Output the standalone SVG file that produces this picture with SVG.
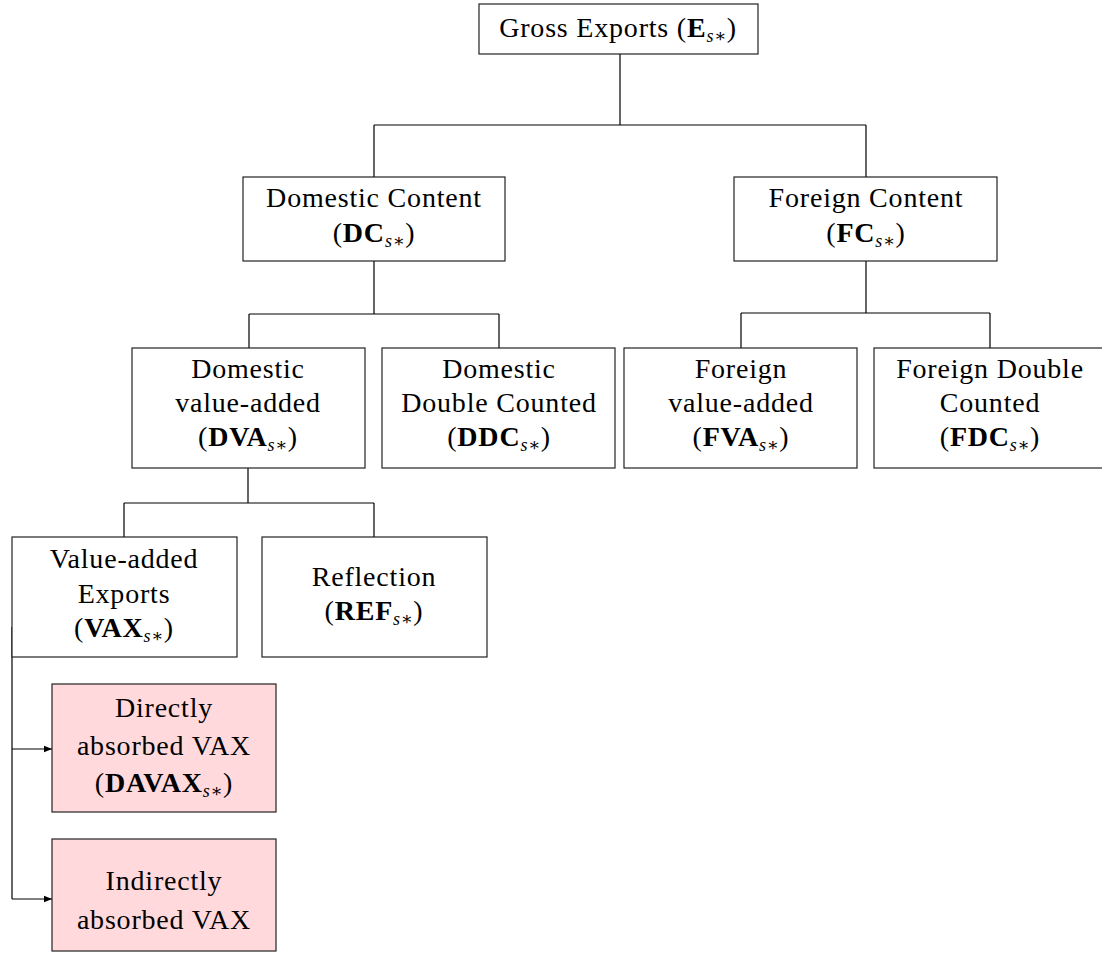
<svg xmlns="http://www.w3.org/2000/svg" width="1102" height="961" viewBox="0 0 1102 961">
<defs>
<marker id="arr" viewBox="0 0 10 10" refX="10" refY="5" markerWidth="8" markerHeight="8" markerUnits="userSpaceOnUse" orient="auto">
<path d="M0,1 L10,5 L0,9 Z" fill="#000"/>
</marker>
</defs>
<style>
.box{fill:#fff;stroke:#222;stroke-width:1.2}
.pink{fill:#ffd9dc;stroke:#222;stroke-width:1.2}
.conn{fill:none;stroke:#000;stroke-width:1.2}
text{font-family:"Liberation Serif","DejaVu Serif",serif;font-size:28px;letter-spacing:0.8px;fill:#000;text-anchor:middle}
.b{font-weight:bold}
.sub{font-style:italic;font-size:18px;letter-spacing:0.5px}
</style>
<rect width="1102" height="961" fill="#fff"/>
<g id="connectors">
<path class="conn" d="M620,54 V125 M374,125 H866 M374,125 V177 M866,125 V177"/>
<path class="conn" d="M374,261 V314 M249,314 H499 M249,314 V348 M499,314 V348"/>
<path class="conn" d="M866,261 V313 M741,313 H990 M741,313 V348 M990,313 V348"/>
<path class="conn" d="M248,468 V503 M124,503 H374 M124,503 V537 M374,503 V537"/>
<path class="conn" d="M12,627 V899"/>
<path class="conn" d="M12,749 H52" marker-end="url(#arr)"/>
<path class="conn" d="M12,899 H52" marker-end="url(#arr)"/>
</g>
<g id="gross">
<rect class="box" x="479" y="4" width="279" height="50"/>
<text x="618" y="37">Gross Exports (<tspan class="b">E</tspan><tspan class="sub" dy="5">s∗</tspan><tspan dy="-5">)</tspan></text>
</g>
<g id="dc">
<rect class="box" x="243" y="177" width="262" height="84"/>
<text x="374" y="207">Domestic Content</text>
<text x="374" y="242">(<tspan class="b">DC</tspan><tspan class="sub" dy="5">s∗</tspan><tspan dy="-5">)</tspan></text>
</g>
<g id="fc">
<rect class="box" x="734" y="177" width="263" height="84"/>
<text x="866" y="207">Foreign Content</text>
<text x="866" y="242">(<tspan class="b">FC</tspan><tspan class="sub" dy="5">s∗</tspan><tspan dy="-5">)</tspan></text>
</g>
<g id="dva">
<rect class="box" x="132" y="348" width="233" height="120"/>
<text x="248" y="378">Domestic</text>
<text x="248" y="412">value-added</text>
<text x="248" y="446">(<tspan class="b">DVA</tspan><tspan class="sub" dy="5">s∗</tspan><tspan dy="-5">)</tspan></text>
</g>
<g id="ddc">
<rect class="box" x="382" y="348" width="233" height="120"/>
<text x="499" y="378">Domestic</text>
<text x="499" y="412">Double Counted</text>
<text x="499" y="446">(<tspan class="b">DDC</tspan><tspan class="sub" dy="5">s∗</tspan><tspan dy="-5">)</tspan></text>
</g>
<g id="fva">
<rect class="box" x="624" y="348" width="233" height="120"/>
<text x="741" y="378">Foreign</text>
<text x="741" y="412">value-added</text>
<text x="741" y="446">(<tspan class="b">FVA</tspan><tspan class="sub" dy="5">s∗</tspan><tspan dy="-5">)</tspan></text>
</g>
<g id="fdc">
<rect class="box" x="874" y="348" width="233" height="120"/>
<text x="990" y="378">Foreign Double</text>
<text x="990" y="412">Counted</text>
<text x="990" y="446">(<tspan class="b">FDC</tspan><tspan class="sub" dy="5">s∗</tspan><tspan dy="-5">)</tspan></text>
</g>
<g id="vax">
<rect class="box" x="12" y="537" width="225" height="120"/>
<text x="124" y="568">Value-added</text>
<text x="124" y="603">Exports</text>
<text x="124" y="637">(<tspan class="b">VAX</tspan><tspan class="sub" dy="5">s∗</tspan><tspan dy="-5">)</tspan></text>
</g>
<g id="ref">
<rect class="box" x="262" y="537" width="225" height="120"/>
<text x="374" y="586">Reflection</text>
<text x="374" y="620">(<tspan class="b">REF</tspan><tspan class="sub" dy="5">s∗</tspan><tspan dy="-5">)</tspan></text>
</g>
<g id="davax">
<rect class="pink" x="52" y="684" width="224" height="128"/>
<text x="164" y="717">Directly</text>
<text x="164" y="755">absorbed VAX</text>
<text x="164" y="792">(<tspan class="b">DAVAX</tspan><tspan class="sub" dy="5">s∗</tspan><tspan dy="-5">)</tspan></text>
</g>
<g id="iavax">
<rect class="pink" x="52" y="839" width="224" height="112"/>
<text x="164" y="890">Indirectly</text>
<text x="164" y="929">absorbed VAX</text>
</g>
</svg>
